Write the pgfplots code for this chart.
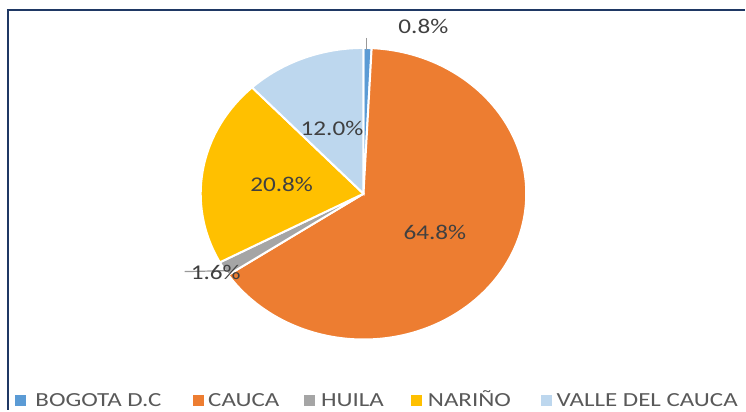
\documentclass[border=0pt]{standalone}
\usepackage{fontspec}
\setmainfont{Carlito}
\usepackage{pgfplots}
\usepackage{pgfplotstable}
\pgfplotsset{compat=1.18}

\definecolor{pc0}{HTML}{5B9BD5}
\definecolor{pc1}{HTML}{ED7D31}
\definecolor{pc2}{HTML}{A5A5A5}
\definecolor{pc3}{HTML}{FFC000}
\definecolor{pc4}{HTML}{BDD7EE}
\definecolor{frame}{HTML}{1F3864}
\definecolor{lbl}{HTML}{404040}
\definecolor{leg}{HTML}{595959}

% share of each department, %
\pgfplotstableread{
value
0.8
64.8
1.6
20.8
12.0
}\piedata

% start / end angle of every slice, clockwise from 12 o'clock
\gdef\acc{90}
\foreach \i in {0,...,4}{%
  \pgfplotstablegetelem{\i}{value}\of\piedata
  \pgfmathsetmacro\endang{\acc-3.6*\pgfplotsretval}%
  \expandafter\xdef\csname pieA\i\endcsname{\acc}%
  \expandafter\xdef\csname pieB\i\endcsname{\endang}%
  \xdef\acc{\endang}%
}

\begin{document}
\begin{tikzpicture}
\begin{axis}[
    width=373pt, height=205.5pt,
    scale only axis,
    hide axis,
    xmin=0, xmax=746,
    ymin=0, ymax=411,
    clip=false,
]
\path (rel axis cs:0,0) rectangle (rel axis cs:1,1);

% frame
\draw[frame, line width=1.1pt] (axis cs:7,401) -- (axis cs:746,401);
\draw[frame, line width=1.1pt] (axis cs:8,401) -- (axis cs:8,0);

% slices
\pgfplotsinvokeforeach{0,...,4}{%
  \edef\temp{\noexpand\fill[pc#1, draw=white, line width=1pt]
    (axis cs:364,217) -- ++(\csname pieA#1\endcsname:81.5pt and 73pt)
    arc[start angle=\csname pieA#1\endcsname, end angle=\csname pieB#1\endcsname,
        x radius=81.5pt, y radius=73pt] -- cycle;}%
  \temp
}

% leader lines
\draw[gray!80, line width=0.6pt] (axis cs:367,373) -- (axis cs:367,361);
\draw[gray!80, line width=0.6pt] (axis cs:185,139) -- (axis cs:230,140);

% data labels
\begin{scope}[every node/.style={font=\fontsize{10.5}{12}\selectfont, text=lbl, inner sep=0pt, xscale=1.2}]
\node at (axis cs:424,384.5) {0.8\%};
\node at (axis cs:435.5,178) {64.8\%};
\node at (axis cs:216,138) {1.6\%};
\node at (axis cs:282,226.5) {20.8\%};
\node at (axis cs:332.5,282.5) {12.0\%};
\end{scope}

% legend
\begin{scope}[every node/.style={font=\fontsize{10}{12}\selectfont, text=leg, inner sep=0pt, anchor=base west, xscale=1.25}]
\fill[pc0] (axis cs:15,4) rectangle (axis cs:26,15);
\node at (axis cs:35,3.5) {BOGOTA D.C};
\fill[pc1] (axis cs:193,4) rectangle (axis cs:204,15);
\node at (axis cs:208,3.5) {CAUCA};
\fill[pc2] (axis cs:304,4) rectangle (axis cs:315,15);
\node at (axis cs:321,3.5) {HUILA};
\fill[pc3] (axis cs:412,4) rectangle (axis cs:423,15);
\node at (axis cs:428,3.5) {NARIÑO};
\fill[pc4] (axis cs:542,4) rectangle (axis cs:553,15);
\node at (axis cs:557,3.5) {VALLE DEL CAUCA};
\end{scope}
\end{axis}
\end{tikzpicture}
\end{document}
